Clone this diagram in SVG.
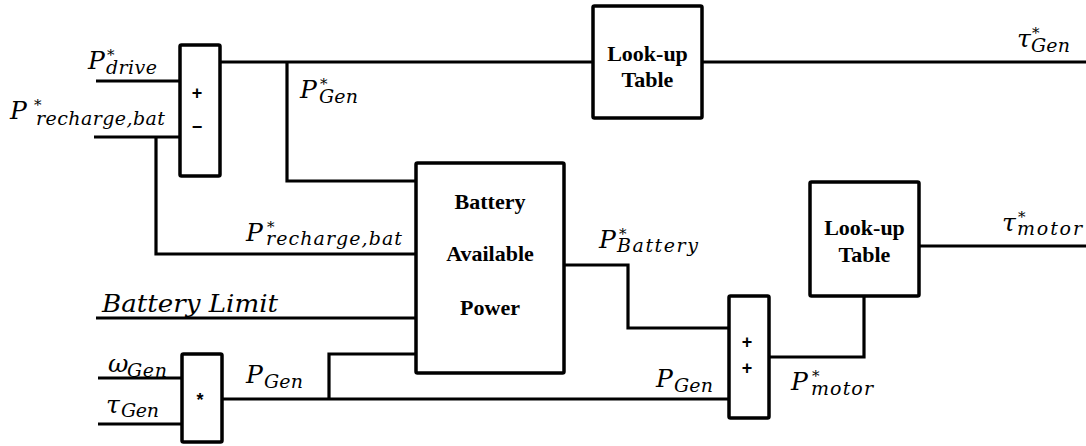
<svg xmlns="http://www.w3.org/2000/svg" width="1086" height="446" viewBox="0 0 1086 446">
<style>
.ln{fill:none;stroke:#000;stroke-width:3.2;stroke-linejoin:miter}
.bx{fill:#fff;stroke:#000;stroke-width:3.5}
.m{font-family:"DejaVu Serif","Liberation Serif",serif;font-style:italic;font-size:25px;fill:#000}
.s{font-size:19px}
.st{font-size:15px;font-style:normal}
.b{font-family:"Liberation Serif","Times New Roman",serif;font-weight:bold;font-size:22px;fill:#000;text-anchor:middle}
.sg{font-family:"Liberation Sans",Arial,sans-serif;font-weight:bold;font-size:18px;fill:#000;text-anchor:middle}
</style>
<g id="connectors">
<path class="ln" d="M96 81H180"/>
<path class="ln" d="M94 137H180"/>
<path class="ln" d="M156 137V254H416"/>
<path class="ln" d="M220 62H593"/>
<path class="ln" d="M287 62V181H416"/>
<path class="ln" d="M702 62H1086"/>
<path class="ln" d="M96 318H416"/>
<path class="ln" d="M98 378H182"/>
<path class="ln" d="M98 424H182"/>
<path class="ln" d="M222 399H729"/>
<path class="ln" d="M329 399V354H416"/>
<path class="ln" d="M564 265H628V328H729"/>
<path class="ln" d="M769 357H864V296"/>
<path class="ln" d="M919 246H1086"/>
</g>
<g id="sum1">
<rect class="bx" x="180" y="45" width="40" height="131" rx="1.5"/>
<text class="sg" x="197" y="99">+</text>
<text class="sg" x="197" y="133">−</text>
</g>
<g id="lut1">
<rect class="bx" x="593" y="6" width="109" height="112" rx="1.5"/>
<text class="b" x="647.5" y="61">Look-up</text>
<text class="b" x="647.5" y="87">Table</text>
</g>
<g id="battery">
<rect class="bx" x="416" y="163" width="148" height="210" rx="1.5"/>
<text class="b" x="490" y="209">Battery</text>
<text class="b" x="490" y="261">Available</text>
<text class="b" x="490" y="315">Power</text>
</g>
<g id="mult">
<rect class="bx" x="182" y="354" width="40" height="88" rx="1.5"/>
<text class="sg" x="200" y="406">*</text>
</g>
<g id="sum2">
<rect class="bx" x="729" y="296" width="40" height="122" rx="1.5"/>
<text class="sg" x="747" y="348">+</text>
<text class="sg" x="747" y="374">+</text>
</g>
<g id="lut2">
<rect class="bx" x="810" y="182" width="109" height="114" rx="1.5"/>
<text class="b" x="864.5" y="235">Look-up</text>
<text class="b" x="864.5" y="262">Table</text>
</g>
<g id="labels">
<text class="m" x="88" y="69">P<tspan class="st" x="107" y="60">*</tspan><tspan class="s" x="106" y="74" textLength="51" lengthAdjust="spacing">drive</tspan></text>
<text class="m" x="10" y="119">P<tspan class="st" x="34" y="110">*</tspan><tspan class="s" x="36" y="125" textLength="129" lengthAdjust="spacing">recharge,bat</tspan></text>
<text class="m" x="300" y="98">P<tspan class="st" x="320" y="89">*</tspan><tspan class="s" x="319" y="103" textLength="39" lengthAdjust="spacing">Gen</tspan></text>
<text class="m" x="1017" y="47">τ<tspan class="st" x="1032" y="38">*</tspan><tspan class="s" x="1031" y="52" textLength="39" lengthAdjust="spacing">Gen</tspan></text>
<text class="m" x="246" y="241">P<tspan class="st" x="267" y="232">*</tspan><tspan class="s" x="266" y="245" textLength="136" lengthAdjust="spacing">recharge,bat</tspan></text>
<text class="m" x="102" y="312" textLength="176" lengthAdjust="spacingAndGlyphs">Battery Limit</text>
<text class="m" x="108" y="372">ω<tspan class="s" x="127" y="377" textLength="40" lengthAdjust="spacing">Gen</tspan></text>
<text class="m" x="106" y="413">τ<tspan class="s" x="121" y="417" textLength="38" lengthAdjust="spacing">Gen</tspan></text>
<text class="m" x="246" y="383">P<tspan class="s" x="264" y="388" textLength="39" lengthAdjust="spacing">Gen</tspan></text>
<text class="m" x="599" y="248">P<tspan class="st" x="619" y="239">*</tspan><tspan class="s" x="617" y="252" textLength="81" lengthAdjust="spacing">Battery</tspan></text>
<text class="m" x="656" y="387">P<tspan class="s" x="674" y="392" textLength="39" lengthAdjust="spacing">Gen</tspan></text>
<text class="m" x="791" y="390">P<tspan class="st" x="812" y="381">*</tspan><tspan class="s" x="811" y="395" textLength="62" lengthAdjust="spacing">motor</tspan></text>
<text class="m" x="1002" y="231">τ<tspan class="st" x="1018" y="222">*</tspan><tspan class="s" x="1017" y="235" textLength="65" lengthAdjust="spacing">motor</tspan></text>
</g>
</svg>
